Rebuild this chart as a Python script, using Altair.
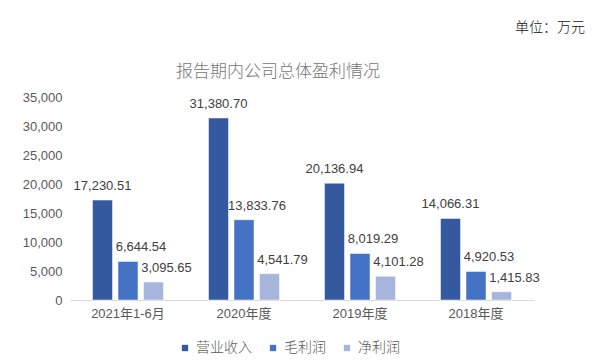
import altair as alt
import pandas as pd

categories = ["2021年1-6月", "2020年度", "2019年度", "2018年度"]
series = ["营业收入", "毛利润", "净利润"]
revenue = [17230.51, 31380.70, 20136.94, 14066.31]
gross = [6644.54, 13833.76, 8019.29, 4920.53]
net = [3095.65, 4541.79, 4101.28, 1415.83]
colors = ["#34599E", "#4472C4", "#A6B5DB"]
y_ticks = [0, 5000, 10000, 15000, 20000, 25000, 30000, 35000]

rows = []
for i, c in enumerate(categories):
    for s, vals in zip(series, [revenue, gross, net]):
        rows.append({"period": c, "series": s, "value": vals[i],
                     "label": f"{vals[i]:,.2f}"})
df = pd.DataFrame(rows)

FONT = "Liberation Sans, Arial, Noto Sans CJK SC"
CJK = "Noto Sans CJK SC"

x = alt.X("period:N", sort=categories, title=None,
          scale=alt.Scale(paddingInner=0.388, paddingOuter=0.194),
          axis=alt.Axis(labelAngle=0, ticks=False, domainColor="#D9D9D9",
                        labelColor="#595959", labelFontSize=13, labelFont=FONT,
                        labelPadding=7))
xo = alt.XOffset("series:N", sort=series,
                 scale=alt.Scale(paddingInner=0.216, paddingOuter=0))
y = alt.Y("value:Q", title=None,
          scale=alt.Scale(domain=[0, 35000], nice=False),
          axis=alt.Axis(values=y_ticks, format=",.0f", grid=False, domain=False,
                        ticks=False, labelColor="#595959", labelFontSize=13,
                        labelFont=FONT, labelPadding=8))

bars = alt.Chart(df).mark_bar(stroke="white", strokeWidth=0.5).encode(
    x=x, xOffset=xo, y=y,
    color=alt.Color("series:N", sort=series,
                    scale=alt.Scale(domain=series, range=colors),
                    legend=alt.Legend(title=None, orient="none", direction="horizontal",
                                      legendX=108, legendY=244, symbolType="square",
                                      symbolSize=40, labelFontSize=14, labelFont=CJK,
                                      labelFontWeight=300,
                                      labelColor="#595959", columnPadding=14,
                                      symbolStrokeWidth=0, labelOffset=4))
)

labels_main = alt.Chart(df).transform_filter(
    alt.datum.series == series[0]
).mark_text(dy=-14, fontSize=13, font=FONT, color="#404040", baseline="middle").encode(
    x=x, xOffset=xo, y=y, text="label:N"
)
labels_other = alt.Chart(df).transform_filter(
    alt.datum.series != series[0]
).mark_text(dy=-14, dx=13, fontSize=13, font=FONT, color="#404040", baseline="middle").encode(
    x=x, xOffset=xo, y=y, text="label:N"
)

title = alt.Chart(pd.DataFrame({"t": ["报告期内公司总体盈利情况"]})).mark_text(
    fontSize=17, font=CJK, fontWeight=300, color="#767676", align="center", baseline="middle"
).encode(x=alt.value(208), y=alt.value(-25), text="t:N")

unit = alt.Chart(pd.DataFrame({"t": ["单位：万元"]})).mark_text(
    fontSize=14, font=CJK, fontWeight=300, color="#111111", align="right", baseline="middle"
).encode(x=alt.value(515), y=alt.value(-69), text="t:N")

chart = alt.layer(bars, labels_main, labels_other, title, unit).properties(
    width=464, height=203,
    autosize=alt.AutoSizeParams(type="none"),
    padding={"left": 62, "top": 89, "right": 53, "bottom": 60},
).configure(background="white").configure_view(stroke=None)

chart.save("out.html", embed_options={"renderer": "svg", "actions": False})
